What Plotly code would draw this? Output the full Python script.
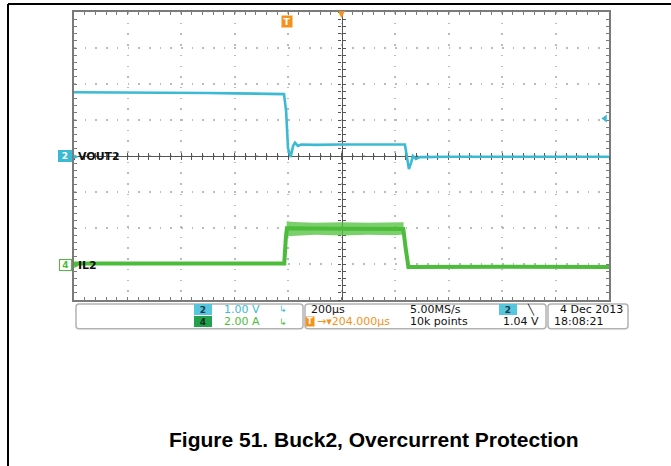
import plotly.graph_objects as go

# ---------------- data (read from the scope capture) ----------------
# time base: µs relative to screen centre, 200 µs/div, 10 divisions
TIME_RANGE = [-1000, 1000]
TIME_DIV = 200
TRIGGER_POS_US = -204.0
TRIGGER_LEVEL_V = 1.04

# channel 2 : VOUT2, 1.00 V/div, ground at screen centre
VOUT2_RANGE = [-4, 4]
vout2_t = [-1000, -900, -800, -700, -600, -500, -400, -300, -215, -207, -200, -190,
           -181, -174, -163, -151, -100, 0, 100, 200, 237, 241, 252, 260, 267, 278,
           293, 400, 600, 800, 1000]
vout2_v = [1.77, 1.77, 1.76, 1.76, 1.75, 1.75, 1.74, 1.73, 1.72, 1.24, 0.22, -0.03,
           0.28, 0.37, 0.28, 0.32, 0.31, 0.32, 0.32, 0.33, 0.32, 0.14, -0.36, -0.19,
           0.0, -0.08, -0.03, -0.02, -0.01, -0.02, -0.02]

# channel 4 : IL2, 2.00 A/div, ground 3 div below centre
IL2_RANGE = [-1.96, 14.04]
il2_t = [-1000, -700, -400, -214, -208, -204, 0, 231, 240, 250, 600, 1000]
il2_a = [0.07, 0.08, 0.07, 0.07, 1.5, 2.02, 2.0, 1.98, 0.9, -0.12, -0.11, -0.12]
# noise envelope of the over-current plateau
il2_band_t = [-205, -180, -100, 0, 100, 200, 232]
il2_band_top = [2.42, 2.38, 2.33, 2.36, 2.33, 2.34, 2.36]
il2_band_bot = [1.58, 1.62, 1.66, 1.63, 1.66, 1.64, 1.68]

# readout texts
CH2_SCALE = "1.00 V"
CH4_SCALE = "2.00 A"
TIMEBASE = "200µs"
TRIG_OFFSET = "→▾204.000µs"
SAMPLE_RATE = "5.00MS/s"
RECORD_LEN = "10k points"
TRIG_LEVEL_TXT = "1.04 V"
DATE_TXT = "4 Dec 2013"
TIME_TXT = "18:08:21"
CAPTION = "Figure 51. Buck2, Overcurrent Protection"

# ---------------- styling ----------------
CYAN = "#3cbad3"
GREEN = "#4cbc3a"
GREEN_BAND = "rgba(85,195,65,0.78)"
ORANGE = "#f5921e"
GRID = "#b4bcc4"
BORDER = "#7a7a7a"
CROSS = "#555555"
TXT = "#111111"
FONT = "DejaVu Sans"

W, H = 671, 466
PL, PT, PW, PH = 74, 10, 535, 290


def fx(px):
    return (px - PL) / PW


def fy(py):
    return (PT + PH - py) / PH


def rrect(x0, y0, x1, y1, r=3.0):
    rx, ry = r / PW, r / PH
    X0, X1, Y0, Y1 = fx(x0), fx(x1), fy(y0), fy(y1)
    return (f"M {X0+rx},{Y0} L {X1-rx},{Y0} Q {X1},{Y0} {X1},{Y0-ry} "
            f"L {X1},{Y1+ry} Q {X1},{Y1} {X1-rx},{Y1} L {X0+rx},{Y1} "
            f"Q {X0},{Y1} {X0},{Y1+ry} L {X0},{Y0-ry} Q {X0},{Y0} {X0+rx},{Y0} Z")


fig = go.Figure()

# IL2 plateau noise band
fig.add_trace(go.Scatter(
    x=il2_band_t + il2_band_t[::-1],
    y=il2_band_top + il2_band_bot[::-1],
    fill="toself", fillcolor=GREEN_BAND, line=dict(width=0),
    mode="lines", yaxis="y2", hoverinfo="skip"))
# IL2 trace
fig.add_trace(go.Scatter(x=il2_t, y=il2_a, mode="lines", yaxis="y2",
                         line=dict(color=GREEN, width=4)))
# VOUT2 trace
fig.add_trace(go.Scatter(x=vout2_t, y=vout2_v, mode="lines",
                         line=dict(color=CYAN, width=2.6)))
# trigger level marker on the right edge
fig.add_trace(go.Scatter(x=[TIME_RANGE[1] - 15], y=[TRIGGER_LEVEL_V], mode="markers",
                         marker=dict(symbol="triangle-left", size=7, color=CYAN)))

# dummy traces to materialise the centre cross-hair axes
for xa, ya in [("x2", "y"), ("x3", "y"), ("x", "y3"), ("x", "y4")]:
    fig.add_trace(go.Scatter(x=[None], y=[None], xaxis=xa, yaxis=ya,
                             mode="lines", hoverinfo="skip"))

common = dict(showticklabels=False, zeroline=False, fixedrange=True,
              layer="below traces")
fig.update_layout(
    width=W, height=H,
    margin=dict(l=PL, r=W - PL - PW, t=PT, b=H - PT - PH, pad=0),
    paper_bgcolor="white", plot_bgcolor="white", showlegend=False,
    xaxis=dict(range=TIME_RANGE, tick0=TIME_RANGE[0], dtick=TIME_DIV,
               showgrid=True, gridcolor=GRID, gridwidth=1.6, griddash="1.6px,9.1px",
               showline=True, linecolor=BORDER, linewidth=1.5, mirror="ticks",
               ticks="inside", ticklen=3, tickcolor=BORDER, tickwidth=1,
               minor=dict(dtick=TIME_DIV / 5, ticks="inside", ticklen=3,
                          tickcolor=BORDER, showgrid=False), **common),
    yaxis=dict(range=VOUT2_RANGE, tick0=VOUT2_RANGE[0], dtick=1,
               showgrid=True, gridcolor=GRID, gridwidth=1.6, griddash="1.6px,9.1px",
               showline=True, linecolor=BORDER, linewidth=1.5, mirror="ticks",
               ticks="inside", ticklen=3, tickcolor=BORDER, tickwidth=1,
               minor=dict(dtick=0.2, ticks="inside", ticklen=3,
                          tickcolor=BORDER, showgrid=False), **common),
    yaxis2=dict(range=IL2_RANGE, overlaying="y", visible=False, fixedrange=True),
    xaxis2=dict(range=TIME_RANGE, overlaying="x", anchor="free", position=0.5,
                tick0=0, dtick=TIME_DIV / 5, ticks="outside", ticklen=3,
                tickcolor=CROSS, showline=True, linecolor=CROSS, linewidth=1.3,
                showgrid=False, **common),
    xaxis3=dict(range=TIME_RANGE, overlaying="x", anchor="free", position=0.5,
                tick0=0, dtick=TIME_DIV / 5, ticks="inside", ticklen=3,
                tickcolor=CROSS, showline=False, showgrid=False, **common),
    yaxis3=dict(range=VOUT2_RANGE, overlaying="y", anchor="free", position=0.5,
                tick0=0, dtick=0.2, ticks="outside", ticklen=3,
                tickcolor=CROSS, showline=True, linecolor=CROSS, linewidth=1.3,
                showgrid=False, **common),
    yaxis4=dict(range=VOUT2_RANGE, overlaying="y", anchor="free", position=0.5,
                tick0=0, dtick=0.2, ticks="inside", ticklen=3,
                tickcolor=CROSS, showline=False, showgrid=False, **common),
)

shapes = []
# outer document frame (top and left rules)
shapes.append(dict(type="line", xref="paper", yref="paper", x0=fx(8), x1=fx(W + 2),
                   y0=fy(2), y1=fy(2), line=dict(color="black", width=2)))
shapes.append(dict(type="line", xref="paper", yref="paper", x0=fx(8), x1=fx(8),
                   y0=fy(2), y1=fy(H + 2), line=dict(color="black", width=2)))
# readout boxes
for (x0, x1) in [(76, 303), (305, 546), (548, 628)]:
    shapes.append(dict(type="path", xref="paper", yref="paper",
                       path=rrect(x0, 304, x1, 329, 3),
                       line=dict(color="#b2b2b2", width=1.5)))
fig.update_layout(shapes=shapes)

ann = []


def txt(px, py, s, color=TXT, size=11, anchor="left", bold=False, **kw):
    ann.append(dict(x=fx(px), y=fy(py), xref="paper", yref="paper", text=s,
                    showarrow=False, xanchor=anchor, yanchor="middle",
                    font=dict(family=FONT, size=size, color=color,
                              weight="bold" if bold else "normal"), **kw))


def badge(px, py, s, bg, fg, border=None, w=14, h=10, size=9):
    ann.append(dict(x=fx(px), y=fy(py), xref="paper", yref="paper", text=s,
                    showarrow=False, xanchor="center", yanchor="middle",
                    width=w, height=h, bgcolor=bg, borderpad=0,
                    bordercolor=border or bg, borderwidth=1,
                    font=dict(family=FONT, size=size, color=fg, weight="bold")))


# channel ground markers on the left
badge(65, 155, "2", CYAN, "white", w=12, h=10)
txt(72, 155, "▸", CYAN, size=9)
txt(76, 155, "VOUT2", TXT, size=11, bold=True)
badge(65, 265, "4", "white", GREEN, border=GREEN, w=11, h=10)
txt(72, 265, "▸", GREEN, size=9)
txt(76, 265, "IL2", TXT, size=11, bold=True)

# trigger position marker and horizontal position marker
ann.append(dict(x=TRIGGER_POS_US, y=fy(20), xref="x", yref="paper", text="T",
                showarrow=False, xanchor="center", yanchor="middle",
                width=10, height=11, bgcolor=ORANGE, borderpad=0,
                font=dict(family=FONT, size=9, color="white", weight="bold")))
ann.append(dict(x=0, y=fy(12), xref="x", yref="paper", text="▼",
                showarrow=False, xanchor="center", yanchor="middle",
                font=dict(family=FONT, size=9, color=ORANGE)))

# readout: vertical settings
badge(203, 309.5, "2", "#55c6de", "#1d3a44", w=16, h=9)
txt(222, 309.5, CH2_SCALE, CYAN)
txt(277, 309.5, "↳", CYAN, size=9)
badge(203, 322, "4", "#23a04c", "#10301a", w=16, h=9)
txt(222, 322, CH4_SCALE, GREEN)
txt(277, 322, "↳", GREEN, size=9)

# readout: horizontal settings
txt(309, 309.5, TIMEBASE)
ann.append(dict(x=fx(310), y=fy(322), xref="paper", yref="paper", text="T",
                showarrow=False, xanchor="center", yanchor="middle",
                width=8, height=9, bgcolor=ORANGE, borderpad=0,
                font=dict(family=FONT, size=8, color="white", weight="bold")))
txt(315, 322, TRIG_OFFSET, ORANGE)
txt(408, 309.5, SAMPLE_RATE)
txt(408, 322, RECORD_LEN)

# readout: trigger
badge(508, 309.5, "2", "#55c6de", "#1d3a44", w=16, h=9)
txt(531, 309.5, "╲", TXT, size=10, anchor="center")
txt(541, 322, TRIG_LEVEL_TXT, anchor="right")

# readout: date / time
txt(625, 309.5, DATE_TXT, anchor="right")
txt(552, 322, TIME_TXT)

# figure caption
ann.append(dict(x=fx(374), y=fy(440), xref="paper", yref="paper",
                text=f"<b>{CAPTION}</b>", showarrow=False,
                xanchor="center", yanchor="middle",
                font=dict(family="Liberation Sans", size=21, color="black")))

fig.update_layout(annotations=ann)
fig.write_html("out.html", config={"displayModeBar": False},
               post_script="document.body.style.margin='0';document.body.style.overflow='hidden';")
